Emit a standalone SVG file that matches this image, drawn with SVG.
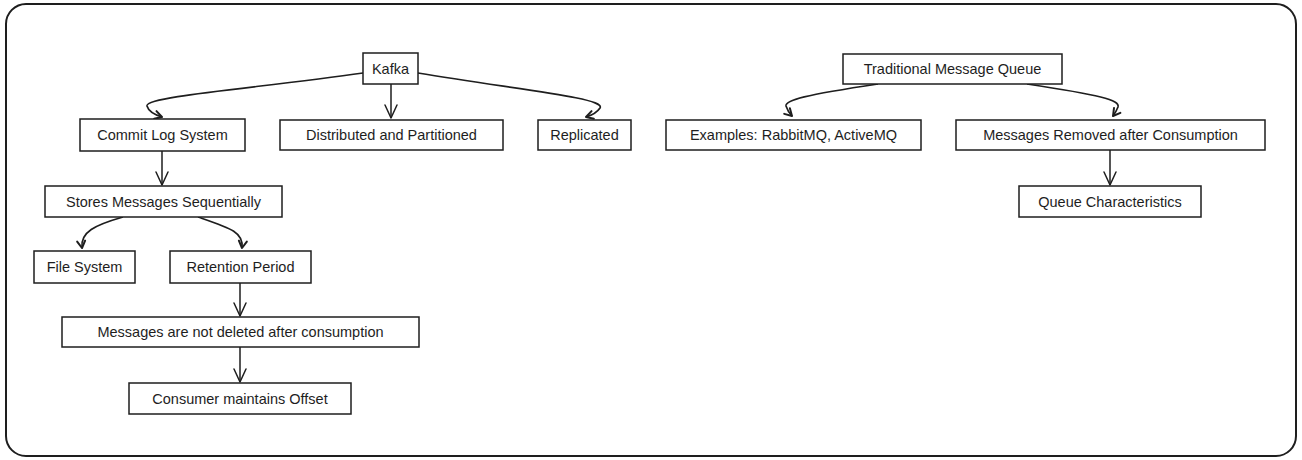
<svg xmlns="http://www.w3.org/2000/svg" width="1302" height="460" viewBox="0 0 1302 460">
<style>
.box{fill:#ffffff;stroke:#1e1e1e;stroke-width:1.5}
.lbl{font-family:"Liberation Sans",Arial,sans-serif;font-size:14.5px;fill:#1e1e1e;text-anchor:middle;dominant-baseline:central}
.edge{fill:none;stroke:#1e1e1e;stroke-width:1.5;marker-end:url(#arr)}
.curve{fill:none;stroke:#1e1e1e;stroke-width:1.7;marker-end:url(#arrs)}
.frame{fill:#ffffff;stroke:#1e1e1e;stroke-width:2}
</style>
<defs>
<marker id="arr" markerUnits="userSpaceOnUse" markerWidth="20" markerHeight="20" viewBox="-16 -10 20 20" refX="0" refY="0" orient="auto">
<path d="M -13 -6 L 0 0 L -13 6" fill="none" stroke="#1e1e1e" stroke-width="1.5" stroke-linecap="round" stroke-linejoin="round"/>
</marker>
<marker id="arrs" markerUnits="userSpaceOnUse" markerWidth="14" markerHeight="14" viewBox="-10 -7 14 14" refX="0" refY="0" orient="auto">
<path d="M -7 -4 L 0 0 L -7 4" fill="none" stroke="#1e1e1e" stroke-width="2" stroke-linecap="round" stroke-linejoin="round"/>
</marker>
</defs>
<rect class="frame" x="6" y="4" width="1290" height="452" rx="20" ry="20"/>
<g id="connectors">
<path class="curve" d="M 363 73 C 260 88, 145 96, 147 106 Q 149 113 162 117"/>
<path class="edge" d="M 391 84 L 391 118"/>
<path class="curve" d="M 418 73 C 520 90, 606 98, 600 108 Q 596 114 586 117"/>
<path class="edge" d="M 162 151 L 162 185"/>
<path class="curve" d="M 123 217 C 95 225, 80 232, 82 248"/>
<path class="curve" d="M 198 217 C 230 228, 244 232, 242 248"/>
<path class="edge" d="M 240 283 L 240 316"/>
<path class="edge" d="M 240 347 L 240 382"/>
<path class="curve" d="M 878 84 C 805 95, 785 100, 786 106 Q 788 112 792 116"/>
<path class="curve" d="M 1027 84 C 1100 95, 1120 100, 1118 107 Q 1116 112 1113 116"/>
<path class="edge" d="M 1110 150 L 1110 185"/>
</g>
<g id="kafka"><rect class="box" x="363" y="53" width="55" height="31"/><text class="lbl" x="390.5" y="69">Kafka</text></g>
<g id="commit-log"><rect class="box" x="80" y="119" width="165" height="32"/><text class="lbl" x="162.5" y="135">Commit Log System</text></g>
<g id="distributed"><rect class="box" x="280" y="120" width="223" height="30"/><text class="lbl" x="391.5" y="135">Distributed and Partitioned</text></g>
<g id="replicated"><rect class="box" x="538" y="120" width="93" height="30"/><text class="lbl" x="584.5" y="135">Replicated</text></g>
<g id="stores"><rect class="box" x="45" y="186" width="237" height="31"/><text class="lbl" x="163.5" y="201.5">Stores Messages Sequentially</text></g>
<g id="file-system"><rect class="box" x="34" y="251" width="101" height="32"/><text class="lbl" x="84.5" y="267">File System</text></g>
<g id="retention"><rect class="box" x="170" y="251" width="141" height="32"/><text class="lbl" x="240.5" y="267">Retention Period</text></g>
<g id="not-deleted"><rect class="box" x="62" y="317" width="357" height="30"/><text class="lbl" x="240.5" y="332">Messages are not deleted after consumption</text></g>
<g id="offset"><rect class="box" x="129" y="383" width="222" height="31"/><text class="lbl" x="240" y="398.5">Consumer maintains Offset</text></g>
<g id="traditional"><rect class="box" x="843" y="54" width="219" height="30"/><text class="lbl" x="952.5" y="69">Traditional Message Queue</text></g>
<g id="examples"><rect class="box" x="666" y="120" width="255" height="30"/><text class="lbl" x="793.5" y="135">Examples: RabbitMQ, ActiveMQ</text></g>
<g id="removed"><rect class="box" x="956" y="120" width="309" height="30"/><text class="lbl" x="1110.5" y="135">Messages Removed after Consumption</text></g>
<g id="queue-char"><rect class="box" x="1019" y="186" width="182" height="31"/><text class="lbl" x="1110" y="201.5">Queue Characteristics</text></g>
</svg>
